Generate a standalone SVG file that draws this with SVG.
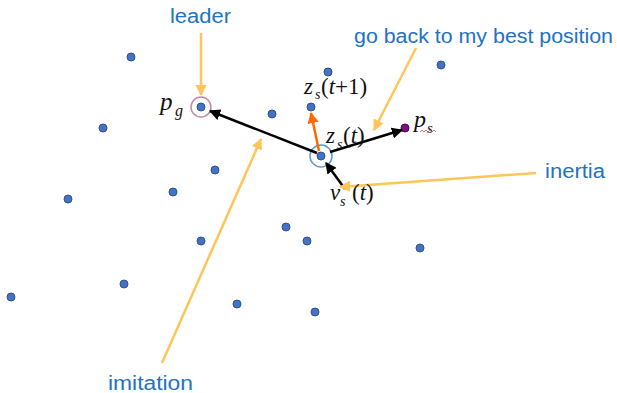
<svg xmlns="http://www.w3.org/2000/svg" width="617" height="393" viewBox="0 0 617 393">
<style>
.dot{fill:#4472C4;stroke:#2F528F;stroke-width:1}
.lbl{font-family:"Liberation Sans",Arial,sans-serif;font-size:20px;fill:#2272C6}
.m{font-family:"Liberation Serif","Times New Roman",serif;font-style:italic;fill:#111}
.mu{font-family:"Liberation Serif","Times New Roman",serif;fill:#111}
.call{stroke:#FFC55A;stroke-width:2.5;fill:none}
.blk{stroke:#000;stroke-width:2.5;fill:none}
</style>
<defs>
<marker id="ab" viewBox="0 0 10 10" refX="9" refY="5" markerWidth="4.5" markerHeight="4.5" orient="auto" markerUnits="strokeWidth"><path d="M0,0 L10,5 L0,10 z" fill="#000"/></marker>
<marker id="ao" viewBox="0 0 10 10" refX="9" refY="5" markerWidth="4.5" markerHeight="4.5" orient="auto" markerUnits="strokeWidth"><path d="M0,0 L10,5 L0,10 z" fill="#FF6A00"/></marker>
<marker id="ay" viewBox="0 0 10 10" refX="9" refY="5" markerWidth="4.5" markerHeight="4.5" orient="auto" markerUnits="strokeWidth"><path d="M0,0 L10,5 L0,10 z" fill="#FFC55A"/></marker>
</defs>
<g id="particles">
<circle class="dot" cx="131" cy="57" r="4"/>
<circle class="dot" cx="328" cy="72" r="4"/>
<circle class="dot" cx="441" cy="65" r="4"/>
<circle class="dot" cx="272" cy="114" r="4"/>
<circle class="dot" cx="103" cy="128" r="4"/>
<circle class="dot" cx="215" cy="170" r="4"/>
<circle class="dot" cx="173" cy="192" r="4"/>
<circle class="dot" cx="68" cy="199" r="4"/>
<circle class="dot" cx="286" cy="227" r="4"/>
<circle class="dot" cx="307" cy="241" r="4"/>
<circle class="dot" cx="201" cy="241" r="4"/>
<circle class="dot" cx="420" cy="248" r="4"/>
<circle class="dot" cx="124" cy="284" r="4"/>
<circle class="dot" cx="11" cy="297" r="4"/>
<circle class="dot" cx="237" cy="304" r="4"/>
<circle class="dot" cx="315" cy="312" r="4"/>
</g>
<g id="pg">
<circle cx="201" cy="107" r="10" fill="none" stroke="#C08AA8" stroke-width="1.5"/>
<circle class="dot" cx="201" cy="107" r="4"/>
<text class="m" x="160" y="110" font-size="25">p</text>
<text class="m" x="175" y="116" font-size="16">g</text>
</g>
<g id="znext">
<circle class="dot" cx="311" cy="107" r="4"/>
<text class="m" x="304" y="94" font-size="23">z</text>
<text class="m" x="315" y="99" font-size="14">s</text>
<text class="mu" x="321" y="94" font-size="23">(<tspan font-style="italic">t</tspan>+1)</text>
</g>
<g id="ps">
<circle cx="405" cy="128" r="4" fill="#7B0F86" stroke="#4A0A52" stroke-width="1"/>
<text class="m" x="414" y="127" font-size="24">p</text>
<text class="m" x="427" y="133" font-size="15">s</text>
<path d="M420,132 l2,-2 l2,2 l2,-2 l2,2 l2,-2 l2,2 l2,-2 l2,2" fill="none" stroke="#E05050" stroke-width="0.8"/>
</g>
<g id="zs">
<circle cx="321" cy="156" r="11" fill="none" stroke="#5B9BD5" stroke-width="1.5"/>
<circle class="dot" cx="321" cy="156" r="4"/>
</g>
<g id="connectors">
<line class="blk" x1="317" y1="153" x2="210" y2="111" marker-end="url(#ab)"/>
<line class="blk" x1="330" y1="152" x2="402" y2="130" marker-end="url(#ab)"/>
<line class="blk" x1="345" y1="189" x2="326" y2="163" marker-end="url(#ab)"/>
<line x1="319" y1="151" x2="311" y2="113" stroke="#FF6A00" stroke-width="2.5" marker-end="url(#ao)"/>
<line class="call" x1="201" y1="33" x2="201" y2="95" marker-end="url(#ay)"/>
<line class="call" x1="416" y1="48" x2="374" y2="130" marker-end="url(#ay)"/>
<line class="call" x1="536" y1="173" x2="340" y2="187" marker-end="url(#ay)"/>
<line class="call" x1="162" y1="363" x2="261" y2="139" marker-end="url(#ay)"/>
</g>
<g id="zs-label">
<text class="m" x="326" y="143" font-size="23">z</text>
<text class="m" x="337" y="149" font-size="14">s</text>
<text class="mu" x="343" y="143" font-size="23">(<tspan font-style="italic">t</tspan>)</text>
</g>
<g id="vs-label">
<text class="m" x="330" y="200" font-size="23">v</text>
<text class="m" x="340" y="206" font-size="14">s</text>
<text class="mu" x="352" y="200" font-size="23">(<tspan font-style="italic">t</tspan>)</text>
</g>
<g id="labels">
<text class="lbl" x="170" y="23" textLength="61" lengthAdjust="spacingAndGlyphs">leader</text>
<text class="lbl" x="354" y="43" textLength="259" lengthAdjust="spacingAndGlyphs">go back to my best position</text>
<text class="lbl" x="545" y="178" textLength="60" lengthAdjust="spacingAndGlyphs">inertia</text>
<text class="lbl" x="108" y="390" textLength="85" lengthAdjust="spacingAndGlyphs">imitation</text>
</g>
</svg>
